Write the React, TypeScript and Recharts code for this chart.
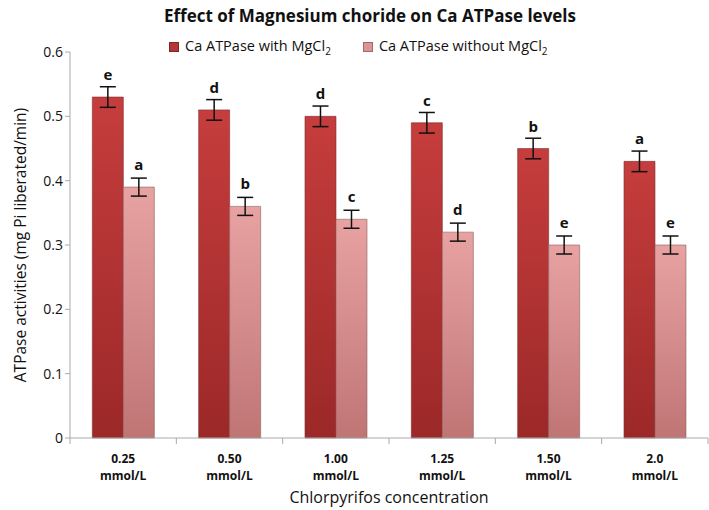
import React from 'react';
import { BarChart, Bar, XAxis, YAxis, ErrorBar, LabelList, Label } from 'recharts';

const concentrations = ['0.25', '0.50', '1.00', '1.25', '1.50', '2.0'];
const withMg = [0.53, 0.51, 0.5, 0.49, 0.45, 0.43];
const withoutMg = [0.39, 0.36, 0.34, 0.32, 0.3, 0.3];
const withErr = [0.016, 0.016, 0.016, 0.016, 0.016, 0.016];
const withoutErr = [0.014, 0.014, 0.014, 0.014, 0.014, 0.014];
const withLetters = ['e', 'd', 'd', 'c', 'b', 'a'];
const withoutLetters = ['a', 'b', 'c', 'd', 'e', 'e'];
const yTicks = [0, 0.1, 0.2, 0.3, 0.4, 0.5, 0.6];

const data = concentrations.map((c, i) => ({
  conc: c,
  withMg: withMg[i],
  withoutMg: withoutMg[i],
  withErr: withErr[i],
  withoutErr: withoutErr[i],
  withLetter: withLetters[i],
  withoutLetter: withoutLetters[i],
}));

const FONT = '"Open Sans", Lato, sans-serif';
const BAND = 638 / concentrations.length;

const XTick = (props: any) => {
  const { x, y, payload, index } = props;
  return (
    <g>
      <line x1={x - BAND / 2} x2={x - BAND / 2} y1={y - 8} y2={y - 2} stroke="#aaa" />
      {index === concentrations.length - 1 && (
        <line x1={x + BAND / 2} x2={x + BAND / 2} y1={y - 8} y2={y - 2} stroke="#aaa" />
      )}
      <text x={x} y={y + 17} textAnchor="middle" fontFamily={FONT} fontWeight="bold" fontSize={12} fill="#111">
        {payload.value}
      </text>
      <text x={x} y={y + 34} textAnchor="middle" fontFamily={FONT} fontWeight="bold" fontSize={12} fill="#111">
        mmol/L
      </text>
    </g>
  );
};

const LegendBox = () => (
  <div style={{ position: 'absolute', top: 36, left: 169, display: 'flex', fontFamily: FONT, fontSize: 14.5, color: '#111' }}>
    <div style={{ display: 'flex', alignItems: 'center', marginRight: 32 }}>
      <span style={{ width: 8, height: 8, background: '#b83333', border: '1px solid #7a2a2a', marginRight: 6 }} />
      <span>Ca ATPase with MgCl<sub style={{ fontSize: 10 }}>2</sub></span>
    </div>
    <div style={{ display: 'flex', alignItems: 'center' }}>
      <span style={{ width: 8, height: 8, background: '#dd9494', border: '1px solid #9a6a6a', marginRight: 6 }} />
      <span>Ca ATPase without MgCl<sub style={{ fontSize: 10 }}>2</sub></span>
    </div>
  </div>
);

export default function App() {
  return (
    <div style={{ position: 'absolute', left: 0, top: 0, width: 709, height: 510, background: '#fff' }}>
      <div style={{ position: 'absolute', top: 4, left: 0, width: 740, textAlign: 'center', fontFamily: FONT, fontWeight: 'bold', fontSize: 17, color: '#111' }}>
        Effect of Magnesium choride on Ca ATPase levels
      </div>
      <LegendBox />
      <BarChart
        width={709}
        height={510}
        data={data}
        margin={{ top: 52, right: 1, bottom: 0, left: 0 }}
        barCategoryGap="21%"
        barGap={0}
      >
        <defs>
          <linearGradient id="gDark" x1="0" y1="0" x2="0" y2="1">
            <stop offset="0%" stopColor="#c63d3d" />
            <stop offset="100%" stopColor="#9c2828" />
          </linearGradient>
          <linearGradient id="gLight" x1="0" y1="0" x2="0" y2="1">
            <stop offset="0%" stopColor="#e8a2a2" />
            <stop offset="100%" stopColor="#c07575" />
          </linearGradient>
        </defs>
        <XAxis
          dataKey="conc"
          stroke="#aaa"
          tickLine={false}
          tick={<XTick />}
          interval={0}
          height={72}
        >
          <Label value="Chlorpyrifos concentration" position="insideBottom" offset={7} style={{ fontFamily: FONT, fontSize: 16, fill: '#111' }} />
        </XAxis>
        <YAxis
          width={70}
          domain={[0, 0.6]}
          ticks={yTicks}
          stroke="#aaa"
          tickSize={5}
          tick={{ fontFamily: FONT, fontSize: 14, fill: '#111' }}
        >
          <Label value="ATPase activities (mg Pi liberated/min)" angle={-90} position="insideLeft" offset={20} style={{ fontFamily: FONT, fontSize: 15.5, fill: '#111', textAnchor: 'middle' }} />
        </YAxis>
        <Bar dataKey="withMg" fill="url(#gDark)" stroke="#7a3030" strokeWidth={0.6} isAnimationActive={false}>
          <ErrorBar dataKey="withErr" width={8} stroke="#111" strokeWidth={1.5} />
          <LabelList dataKey="withLetter" position="top" offset={17} style={{ fontFamily: FONT, fontWeight: 'bold', fontSize: 15, fill: '#111' }} />
        </Bar>
        <Bar dataKey="withoutMg" fill="url(#gLight)" stroke="#8a6060" strokeWidth={0.6} isAnimationActive={false}>
          <ErrorBar dataKey="withoutErr" width={8} stroke="#111" strokeWidth={1.5} />
          <LabelList dataKey="withoutLetter" position="top" offset={17} style={{ fontFamily: FONT, fontWeight: 'bold', fontSize: 15, fill: '#111' }} />
        </Bar>
      </BarChart>
    </div>
  );
}
